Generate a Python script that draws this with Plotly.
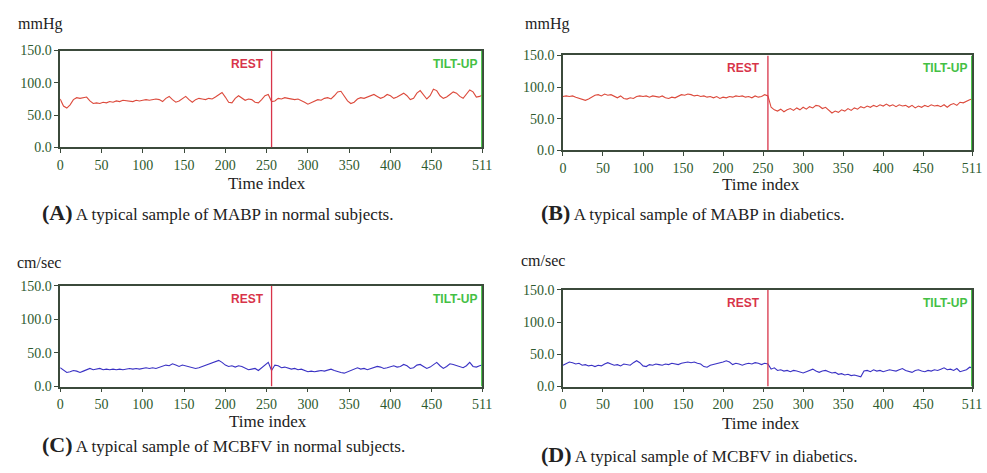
import plotly.graph_objects as go

W, H = 987, 473

time_index = list(range(0, 512, 4)) + [511]

mabp_normal = [
    75, 64, 61, 66, 74, 77, 76, 77, 78, 72, 68, 69, 68, 70, 69, 71,
    70, 72, 71, 73, 72, 72, 71, 73, 72, 73, 74, 73, 74, 75, 74, 71,
    76, 79, 74, 70, 72, 76, 79, 74, 70, 74, 76, 75, 74, 76, 75, 78,
    82, 85, 78, 70, 69, 76, 80, 76, 73, 75, 74, 70, 69, 74, 80, 82,
    71, 72, 76, 75, 77, 76, 75, 74, 75, 73, 70, 67, 69, 72, 74, 73,
    76, 77, 75, 80, 86, 87, 80, 72, 68, 70, 75, 77, 76, 78, 80, 82,
    79, 76, 78, 82, 80, 76, 78, 81, 84, 80, 74, 76, 84, 88, 82, 75,
    80, 90, 88, 80, 76, 78, 82, 86, 84, 79, 76, 82, 89, 86, 78, 79,
    81]

mabp_diabetic = [
    85, 86, 85, 86, 84, 82, 80, 79, 81, 84, 87, 88, 86, 89, 87, 88,
    85, 83, 86, 82, 81, 83, 82, 85, 86, 85, 86, 84, 86, 85, 84, 86,
    83, 82, 84, 83, 85, 88, 87, 89, 88, 86, 87, 85, 86, 84, 85, 83,
    85, 82, 84, 83, 85, 84, 86, 85, 86, 84, 85, 83, 86, 84, 85, 88,
    86, 68, 64, 62, 65, 61, 64, 66, 63, 67, 64, 68, 65, 69, 67, 71,
    70, 66, 68, 63, 59, 62, 60, 64, 62, 66, 63, 67, 65, 69, 67, 70,
    68, 71, 69, 72, 70, 73, 70, 72, 69, 72, 70, 71, 68, 71, 67, 70,
    68, 71, 69, 72, 70, 71, 69, 72, 68, 72, 74, 71, 76, 75, 78, 80,
    81]

mcbfv_normal = [
    28, 24, 21, 22, 24, 23, 21, 23, 25, 27, 25, 26, 27, 25, 26, 25,
    26, 25, 26, 25, 26, 27, 26, 27, 26, 27, 28, 27, 28, 27, 29, 31,
    32, 31, 34, 32, 30, 32, 31, 29, 28, 27, 28, 30, 31, 33, 35, 37,
    39, 36, 32, 30, 31, 29, 31, 30, 28, 25, 26, 27, 24, 28, 33, 36,
    24, 32, 31, 28, 29, 27, 26, 27, 25, 26, 24, 22, 23, 22, 23, 24,
    23, 25, 26, 24, 22, 21, 20, 22, 24, 26, 28, 26, 27, 25, 27, 28,
    30, 29, 27, 28, 30, 31, 29, 30, 33, 31, 27, 28, 32, 33, 30, 27,
    29, 33, 36, 31, 27, 30, 34, 33, 31, 30, 28, 31, 36, 30, 29, 31,
    32]

mcbfv_diabetic = [
    33, 36, 38, 37, 35, 36, 33, 34, 32, 33, 31, 33, 32, 35, 37, 35,
    33, 34, 32, 35, 34, 33, 37, 40, 37, 32, 31, 34, 33, 35, 34, 33,
    35, 34, 36, 35, 34, 36, 37, 38, 37, 38, 36, 35, 31, 30, 33, 34,
    35, 36, 38, 40, 38, 34, 36, 35, 33, 35, 36, 35, 37, 36, 34, 36,
    35, 27, 29, 25, 26, 24, 25, 23, 25, 24, 22, 21, 23, 25, 27, 24,
    22, 24, 25, 23, 21, 22, 19, 20, 18, 19, 17, 18, 17, 15, 24, 25,
    23, 26, 24, 25, 23, 24, 26, 25, 24, 26, 28, 25, 24, 22, 25, 26,
    24, 23, 25, 24, 26, 25, 27, 29, 26, 27, 25, 28, 23, 24, 26, 30,
    29]

x_tick_vals = [0, 50, 100, 150, 200, 250, 300, 350, 400, 450, 511]
x_tick_text = ["0", "50", "100", "150", "200", "250", "300", "350", "400", "450", "511"]
y_tick_vals = [0, 50, 100, 150]
y_tick_text = ["0.0", "50.0", "100.0", "150.0"]

rest_index = 256
tilt_index = 511

units = ["mmHg", "mmHg", "cm/sec", "cm/sec"]
letters = ["(A)", "(B)", "(C)", "(D)"]
captions = ["A typical sample of MABP in normal subjects.",
            "A typical sample of MABP in diabetics.",
            "A typical sample of MCBFV in normal subjects.",
            "A typical sample of MCBFV in diabetics."]
series = [mabp_normal, mabp_diabetic, mcbfv_normal, mcbfv_diabetic]

RED = "#dc4a3c"
BLUE = "#3a32c4"
line_colors = [RED, RED, BLUE, BLUE]

# pixel boxes in window coordinates (left, right, top, bottom)
boxes = [(57, 485, 45, 145), (567, 982, 50, 148), (57, 485, 288, 392), (567, 982, 292, 392)]
unit_pos = [(12, 18), (526, 18), (11, 264), (522, 262)]
title_pos = [(267, 182), (768, 183), (268, 428), (768, 430)]
caption_pos = [(37, 212), (543, 212), (37, 452), (543, 462)]

AXC = "#3b4a3b"
TICKC = "#2e5a2e"
SERIF = "Liberation Serif"
NARROW = "Liberation Sans Narrow, Liberation Sans"

fig = go.Figure()
layout = dict(width=W, height=H, margin=dict(l=0, r=0, t=0, b=0),
              paper_bgcolor="white", plot_bgcolor="white", showlegend=False)
annotations = []
shapes = []


def px(x):
    return x / W


def py(y):
    return 1 - y / H


for i in range(4):
    n = "" if i == 0 else str(i + 1)
    l, r, t, b = boxes[i]
    fig.add_trace(go.Scatter(x=time_index, y=series[i], mode="lines",
                             line=dict(color=line_colors[i], width=1.1),
                             xaxis="x" + n, yaxis="y" + n, hoverinfo="skip"))
    layout["xaxis" + n] = dict(domain=[px(l), px(r)], anchor="y" + n, range=[0, 511],
                               tickvals=x_tick_vals, ticktext=x_tick_text,
                               showgrid=False, zeroline=False, showline=True, mirror=True,
                               linecolor=AXC, linewidth=1.5, ticks="outside", ticklen=4,
                               tickcolor=AXC,
                               tickfont=dict(family=SERIF, size=14, color=TICKC))
    layout["yaxis" + n] = dict(domain=[py(b), py(t)], anchor="x" + n, range=[0, 150],
                               tickvals=y_tick_vals, ticktext=y_tick_text,
                               showgrid=False, zeroline=False, showline=True, mirror=True,
                               linecolor=AXC, linewidth=1.5, ticks="outside", ticklen=4,
                               tickcolor=AXC,
                               tickfont=dict(family=SERIF, size=14, color=TICKC))
    shapes.append(dict(type="line", xref="x" + n, yref="y" + n, x0=rest_index, x1=rest_index,
                       y0=0, y1=150, line=dict(color="#d8344a", width=1.3)))
    shapes.append(dict(type="line", xref="x" + n, yref="y" + n, x0=tilt_index, x1=tilt_index,
                       y0=0, y1=150, line=dict(color="#3cc43c", width=2)))
    annotations.append(dict(x=rest_index, y=150, xref="x" + n, yref="y" + n,
                            xanchor="right", yanchor="top", xshift=-6, yshift=-4,
                            text="<b>REST</b>", showarrow=False,
                            font=dict(family=NARROW, size=12, color="#d8344a")))
    annotations.append(dict(x=tilt_index, y=150, xref="x" + n, yref="y" + n,
                            xanchor="right", yanchor="top", xshift=-3, yshift=-4,
                            text="<b>TILT-UP</b>", showarrow=False,
                            font=dict(family=NARROW, size=12, color="#44c044")))
    ux, uy = unit_pos[i]
    annotations.append(dict(x=px(ux), y=py(uy), xref="paper", yref="paper",
                            xanchor="left", yanchor="middle", text=units[i], showarrow=False,
                            font=dict(family=SERIF, size=16, color="#222222")))
    tx, ty = title_pos[i]
    annotations.append(dict(x=px(tx), y=py(ty), xref="paper", yref="paper",
                            xanchor="center", yanchor="middle", text="Time index", showarrow=False,
                            font=dict(family=SERIF, size=17, color="#222222")))
    cx, cy = caption_pos[i]
    annotations.append(dict(x=px(cx), y=py(cy), xref="paper", yref="paper",
                            xanchor="left", yanchor="middle",
                            text="<b><span style='font-size:22px'>" + letters[i] + "</span></b> " + captions[i],
                            showarrow=False,
                            font=dict(family=SERIF, size=17, color="#222222")))

layout["annotations"] = annotations
layout["shapes"] = shapes
fig.update_layout(**layout)
fig.write_html("out.html", config={"displayModeBar": False},
               post_script="document.body.style.margin='0px';")
